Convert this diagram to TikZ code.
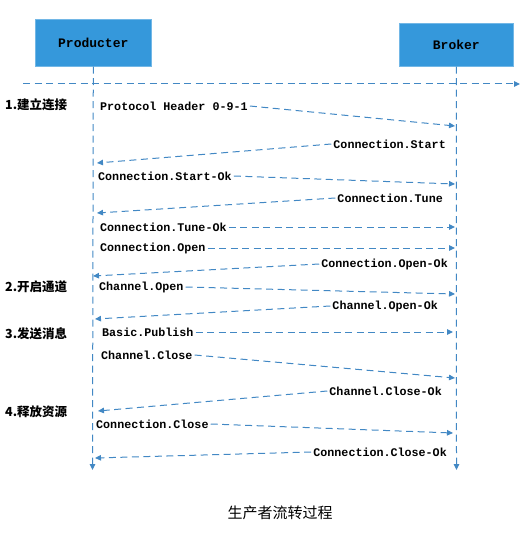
\documentclass[tikz,border=0pt]{standalone}
\usepackage{fontspec}
\setmonofont{Liberation Mono}
\newfontfamily\cjk{Noto Sans CJK SC}
\usetikzlibrary{arrows.meta}
\definecolor{boxblue}{RGB}{53,152,219}
\definecolor{lineblue}{RGB}{66,136,196}
\tikzset{
  actor/.style={fill=boxblue, draw=boxblue!70!white, line width=0.6pt, inner sep=0pt,
    font=\fontsize{13}{15}\selectfont\ttfamily\bfseries, text=black},
  conn/.style={lineblue, line width=1pt, dash pattern=on 7pt off 4.5pt,
    -{Triangle[length=6pt,width=5.5pt]}},
  mtxt/.style={font=\fontsize{11.7}{13}\selectfont\ttfamily\bfseries, inner xsep=2pt, inner ysep=0pt},
  steplbl/.style={font=\fontsize{12.5}{14}\selectfont\cjk\bfseries, inner sep=0pt, anchor=west},
}
\begin{document}
\begin{tikzpicture}[x=1pt, y=-1pt]
\useasboundingbox (0,0) rectangle (530,545);
% actors
\node[actor, minimum width=116pt, minimum height=47pt, anchor=north west] (prod) at (35,19) {Producter};
\node[actor, minimum width=114pt, minimum height=43pt, anchor=north west] (brok) at (399,23) {Broker};
% lifelines
\coordinate (pend) at (92.5,470);
\coordinate (bend) at (456.5,470);
\draw[conn] (prod.south) -- (pend);
\draw[conn] (brok.south) -- (bend);
% top line
\coordinate (ts) at (23,84);
\coordinate (te) at (520,84);
\draw[conn] (ts) -- (te);
% step labels
\node[steplbl] (s1) at (5,105) {1.建立连接};
\node[steplbl] (s2) at (5,287) {2.开启通道};
\node[steplbl] (s3) at (5,334) {3.发送消息};
\node[steplbl] (s4) at (5,412) {4.释放资源};
% messages
\node[mtxt, anchor=west] (m1) at (98,106) {Protocol Header 0-9-1};
\coordinate (b1) at (455,126);
\draw[conn] (m1.east) -- (b1);

\node[mtxt, anchor=east] (m2) at (448,144) {Connection.Start};
\coordinate (p2) at (97,163);
\draw[conn] (m2.west) -- (p2);

\node[mtxt, anchor=west] (m3) at (96,176) {Connection.Start-Ok};
\coordinate (b3) at (455,184);
\draw[conn] (m3.east) -- (b3);

\node[mtxt, anchor=east] (m4) at (445,198) {Connection.Tune};
\coordinate (p4) at (97,213);
\draw[conn] (m4.west) -- (p4);

\node[mtxt, anchor=west] (m5) at (98,227) {Connection.Tune-Ok};
\coordinate (b5) at (455,227);
\draw[conn] (m5.east) -- (b5);

\node[mtxt, anchor=west] (m6) at (98,248) {Connection.Open};
\coordinate (b6) at (455,248);
\draw[conn] (m6.east) -- (b6);

\node[mtxt, anchor=east] (m7) at (450,264) {Connection.Open-Ok};
\coordinate (p7) at (93,276);
\draw[conn] (m7.west) -- (p7);

\node[mtxt, anchor=west] (m8) at (97,287) {Channel.Open};
\coordinate (b8) at (455,294);
\draw[conn] (m8.east) -- (b8);

\node[mtxt, anchor=east] (m9) at (440,306) {Channel.Open-Ok};
\coordinate (p9) at (95,319);
\draw[conn] (m9.west) -- (p9);

\node[mtxt, anchor=west] (m10) at (100,332) {Basic.Publish};
\coordinate (b10) at (453,332);
\draw[conn] (m10.east) -- (b10);

\node[mtxt, anchor=west] (m11) at (99,355) {Channel.Close};
\coordinate (b11) at (455,378);
\draw[conn] (m11.east) -- (b11);

\node[mtxt, anchor=east] (m12) at (444,391) {Channel.Close-Ok};
\coordinate (p12) at (98,411);
\draw[conn] (m12.west) -- (p12);

\node[mtxt, anchor=west] (m13) at (94,424) {Connection.Close};
\coordinate (b13) at (453,433);
\draw[conn] (m13.east) -- (b13);

\node[mtxt, anchor=east] (m14) at (449,452) {Connection.Close-Ok};
\coordinate (p14) at (95,458);
\draw[conn] (m14.west) -- (p14);
% caption
\node[font=\fontsize{15}{17}\selectfont\cjk, inner sep=0pt] (cap) at (280,513) {生产者流转过程};
\end{tikzpicture}
\end{document}
